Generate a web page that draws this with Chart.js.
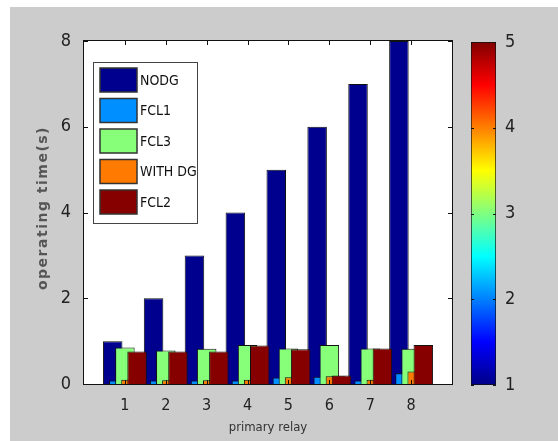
<!DOCTYPE html>
<html>
<head>
<meta charset="utf-8">
<script src="https://cdn.jsdelivr.net/npm/chart.js@4.4.1/dist/chart.umd.min.js"></script>
<style>
  html, body { margin: 0; padding: 0; background: #fff; }
  #wrap { position: relative; width: 558px; height: 441px; }
  #main { position: absolute; left: 0; top: 0; }
  #cbar { position: absolute; left: 440px; top: 0; }
</style>
</head>
<body>
<div id="wrap">
  <canvas id="main" width="558" height="441"></canvas>
  <canvas id="cbar" width="118" height="441"></canvas>
</div>
<script>
// values
const relays = [1, 2, 3, 4, 5, 6, 7, 8];
const noDG   = [1, 2, 3, 4, 5, 6, 7, 8];
const fcl1   = [0.08, 0.08, 0.08, 0.08, 0.15, 0.17, 0.08, 0.25];
const fcl3   = [0.85, 0.78, 0.82, 0.91, 0.83, 0.91, 0.83, 0.82];
const withDG = [0.10, 0.09, 0.09, 0.10, 0.16, 0.18, 0.10, 0.29];
const fcl2   = [0.76, 0.76, 0.76, 0.90, 0.81, 0.20, 0.83, 0.91];
const seriesNames = ['NODG', 'FCL1', 'FCL3', 'WITH DG', 'FCL2'];
const yTicks = [0, 2, 4, 6, 8];
const cbTicks = [1, 2, 3, 4, 5];
const xTitle = 'primary relay';
const yTitle = 'operating time(s)';

const colors = ['rgb(0,0,143)', 'rgb(0,143,255)', 'rgb(135,255,120)', 'rgb(255,122,0)', 'rgb(135,0,0)'];
const narrow = "'Liberation Sans Narrow', 'DejaVu Sans Condensed', 'Liberation Sans', Arial, sans-serif";

const allSeries = [noDG, fcl1, fcl3, withDG, fcl2];

/** background, white plot area, titles */
const frame = {
  id: 'frame',
  beforeDraw(chart) {
    const c = chart.ctx, a = chart.chartArea;
    c.save();
    c.fillStyle = '#fff';
    c.fillRect(0, 0, chart.width, chart.height);
    c.fillStyle = '#cccccc';
    c.fillRect(10, 7, chart.width - 10, chart.height - 7);
    c.fillStyle = '#fff';
    c.fillRect(a.left, a.top, a.right - a.left, a.bottom - a.top);
    c.restore();
  },
  afterDraw(chart) {
    const c = chart.ctx, a = chart.chartArea;
    const xs = chart.scales.x, ys = chart.scales.y;
    c.save();
    // box
    c.strokeStyle = '#111';
    c.lineWidth = 1;
    c.strokeRect(a.left - 0.5, a.top - 0.5, a.right - a.left + 1, a.bottom - a.top + 1);
    // inner ticks
    c.beginPath();
    yTicks.forEach(v => {
      const p = Math.round(ys.getPixelForValue(v)) + 0.5;
      c.moveTo(a.left, p); c.lineTo(a.left + 4, p);
      c.moveTo(a.right, p); c.lineTo(a.right - 4, p);
    });
    relays.forEach(v => {
      const p = Math.round(xs.getPixelForValue(v)) + 0.5;
      c.moveTo(p, a.bottom); c.lineTo(p, a.bottom - 4);
      c.moveTo(p, a.top); c.lineTo(p, a.top + 4);
    });
    c.stroke();

    // axis titles
    c.fillStyle = '#333';
    c.font = '13px ' + narrow;
    c.textAlign = 'center';
    c.textBaseline = 'middle';
    c.fillText(xTitle, (a.left + a.right) / 2, 428);

    c.save();
    c.translate(43, 208);
    c.rotate(-Math.PI / 2);
    c.fillStyle = '#555';
    c.font = "bold 14px 'DejaVu Sans', sans-serif";
    c.letterSpacing = '1.5px';
    c.fillText(yTitle, 0, 0);
    c.restore();

    // legend box
    const lx = a.left + 9, ly = a.top + 21, lw = 104, lh = 161;
    c.fillStyle = '#fff';
    c.fillRect(lx, ly, lw, lh);
    c.strokeStyle = '#444';
    c.lineWidth = 1;
    c.strokeRect(lx + 0.5, ly + 0.5, lw, lh);
    chart.data.datasets.forEach((d, i) => {
      const cy = ly + 18 + i * 30.5;
      c.fillStyle = d.backgroundColor;
      c.fillRect(lx + 7, cy - 12, 37, 24);
      c.strokeStyle = '#333';
      c.lineWidth = 1.5;
      c.strokeRect(lx + 7, cy - 12, 37, 24);
      c.fillStyle = '#111';
      c.font = '14px ' + narrow;
      c.textAlign = 'left';
      c.fillText(d.label, lx + 47, cy + 1);
    });
    c.restore();
  }
};

/** draw series in matlab order: later series on top */
const drawInOrder = {
  id: 'drawInOrder',
  beforeDatasetDraw() { return false; },
  afterDatasetsDraw(chart) {
    const c = chart.ctx, a = chart.chartArea;
    c.save();
    c.beginPath();
    c.rect(a.left, a.top, a.right - a.left, a.bottom - a.top);
    c.clip();
    chart.data.datasets.forEach((d, i) => {
      const meta = chart.getDatasetMeta(i);
      if (!meta.hidden) meta.controller.draw();
    });
    c.restore();
  }
};

let chart = new Chart(document.getElementById('main'), {
  type: 'bar',
  data: {
    datasets: seriesNames.map((name, k) => ({
      label: name,
      data: relays.map((r, i) => ({ x: r, y: allSeries[k][i] })),
      backgroundColor: colors[k],
      borderColor: '#111',
      borderWidth: 1,
      categoryPercentage: 0.746,
      barPercentage: 3.2
    }))
  },
  options: {
    responsive: false,
    animation: false,
    layout: { padding: { left: 0, top: 41, right: 106, bottom: 0 } },
    plugins: { legend: { display: false }, tooltip: { enabled: false } },
    scales: {
      x: {
        type: 'linear', min: 0, max: 9, offset: false,
        grid: { display: false }, border: { display: false },
        ticks: {
          stepSize: 1, padding: 4, color: '#222', maxRotation: 0, autoSkip: false,
          font: { family: narrow, size: 16 },
          callback: v => relays.includes(v) ? String(v) : ''
        },
        afterFit(s) { s.height = 57; }
      },
      y: {
        min: 0, max: 8,
        grid: { display: false }, border: { display: false },
        ticks: { stepSize: 2, padding: 5, color: '#222', font: { family: narrow, size: 18 } },
        afterFit(s) { s.width = 84; }
      }
    }
  },
  plugins: [frame, drawInOrder]
});

/** colorbar */
function jet(ctx) {
  const a = ctx.chart.chartArea;
  if (!a) return '#000';
  const g = ctx.chart.ctx.createLinearGradient(0, a.bottom, 0, a.top);
  g.addColorStop(0, 'rgb(0,0,135)');
  g.addColorStop(0.125, 'rgb(0,0,255)');
  g.addColorStop(0.375, 'rgb(0,255,255)');
  g.addColorStop(0.625, 'rgb(255,255,0)');
  g.addColorStop(0.875, 'rgb(255,0,0)');
  g.addColorStop(1, 'rgb(128,0,0)');
  return g;
}

const cbTickMarks = {
  id: 'cbTickMarks',
  afterDraw(ch) {
    const c = ch.ctx, a = ch.chartArea, ys = ch.scales.y;
    c.save();
    c.strokeStyle = '#111';
    c.lineWidth = 1;
    c.beginPath();
    cbTicks.forEach(v => {
      const p = Math.round(ys.getPixelForValue(v)) + 0.5;
      c.moveTo(a.left, p); c.lineTo(a.left + 3, p);
      c.moveTo(a.right, p); c.lineTo(a.right - 3, p);
    });
    c.stroke();
    c.restore();
  }
};

let chartBar = new Chart(document.getElementById('cbar'), {
  type: 'bar',
  data: {
    labels: [''],
    datasets: [{
      data: [[cbTicks[0], cbTicks[cbTicks.length - 1]]],
      backgroundColor: jet,
      borderColor: '#111',
      borderWidth: 1,
      borderSkipped: false,
      barPercentage: 1,
      categoryPercentage: 1
    }]
  },
  options: {
    responsive: false,
    animation: false,
    layout: { padding: { left: 31, top: 42, right: 0, bottom: 56 } },
    plugins: { legend: { display: false }, tooltip: { enabled: false } },
    scales: {
      x: { display: false },
      y: {
        position: 'right', min: 1, max: 5,
        grid: { display: false }, border: { display: false },
        ticks: { stepSize: 1, padding: 1, color: '#222', font: { family: narrow, size: 18 } },
        afterFit(s) { s.width = 62; }
      }
    }
  },
  plugins: [cbTickMarks]
});
</script>
</body>
</html>
